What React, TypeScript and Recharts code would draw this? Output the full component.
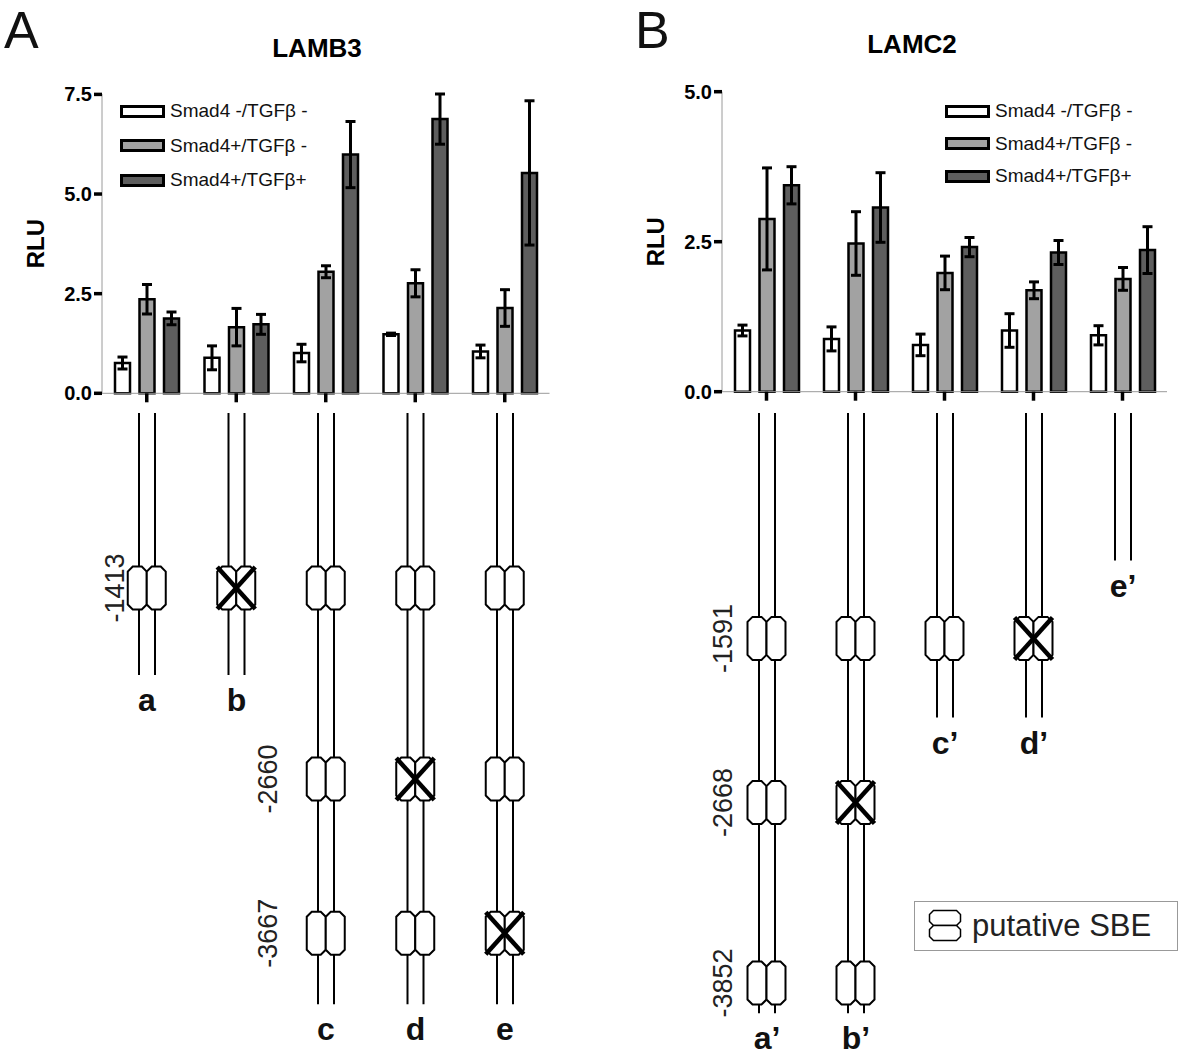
import React from "react";
import { Bar, BarChart, ComposedChart, ErrorBar, Scatter, XAxis, YAxis } from "recharts";

const FONT = '"Liberation Sans", Arial, Helvetica, sans-serif';

// luciferase reporter series
const SERIES = ["Smad4 -/TGFβ -", "Smad4+/TGFβ -", "Smad4+/TGFβ+"];
const SERIES_FILL = ["#ffffff", "#a2a2a2", "#5e5e5e"];

// LAMB3 (panel A)
const LAMB3_CONSTRUCTS = ["a", "b", "c", "d", "e"];
const LAMB3_NEG = [0.76, 0.89, 1.01, 1.48, 1.05];
const LAMB3_NEG_ERR = [0.15, 0.3, 0.22, 0.03, 0.16];
const LAMB3_S4 = [2.36, 1.66, 3.05, 2.76, 2.14];
const LAMB3_S4_ERR = [0.37, 0.47, 0.15, 0.34, 0.46];
const LAMB3_S4T = [1.88, 1.73, 5.99, 6.88, 5.53];
const LAMB3_S4T_ERR = [0.16, 0.25, 0.83, 0.63, 1.81];
const LAMB3_TICKS = [0, 2.5, 5, 7.5];

// LAMB3 promoter schematic: SBE positions (bp), 5' end of each construct, mutated SBE
const LAMB3_SITES = [-1413, -2660, -3667];
const LAMB3_SITE_LABEL_AT = ["a", "c", "c"];
const LAMB3_ENDS = [-1980, -1980, -4130, -4130, -4130];
const LAMB3_MUTATED = [null, -1413, null, -2660, -3667];

// LAMC2 (panel B)
const LAMC2_CONSTRUCTS = ["a’", "b’", "c’", "d’", "e’"];
const LAMC2_NEG = [1.02, 0.88, 0.78, 1.02, 0.94];
const LAMC2_NEG_ERR = [0.09, 0.2, 0.18, 0.28, 0.16];
const LAMC2_S4 = [2.88, 2.47, 1.98, 1.69, 1.88];
const LAMC2_S4_ERR = [0.85, 0.53, 0.28, 0.14, 0.19];
const LAMC2_S4T = [3.44, 3.07, 2.41, 2.32, 2.36];
const LAMC2_S4T_ERR = [0.31, 0.58, 0.16, 0.2, 0.39];
const LAMC2_TICKS = [0, 2.5, 5];

const LAMC2_SITES = [-1591, -2668, -3852];
const LAMC2_SITE_LABEL_AT = ["a’", "a’", "a’"];
const LAMC2_ENDS = [-4050, -4050, -2110, -2110, -1080];
const LAMC2_MUTATED = [null, -2668, null, -1591, null];

const VAL_KEYS = ["neg", "s4", "s4t"];
const ERR_KEYS = ["negErr", "s4Err", "s4tErr"];

function barRows(names: string[], vals: number[][], errs: number[][]) {
  return names.map((name, i) => {
    const row: Record<string, any> = { name };
    VAL_KEYS.forEach((k, s) => (row[k] = vals[s][i]));
    ERR_KEYS.forEach((k, s) => (row[k] = errs[s][i]));
    return row;
  });
}

function schematic(
  names: string[],
  sites: number[],
  labelAt: string[],
  ends: number[],
  mutated: (number | null)[],
  top: number,
) {
  const spans = names.map((name, i) => ({ name, span: [top, ends[i]] }));
  const marks: any[] = [];
  names.forEach((name, i) => {
    sites.forEach((pos) => {
      if (pos > ends[i]) marks.push({ name, pos, mutated: mutated[i] === pos });
    });
  });
  const labels = sites.map((pos, k) => ({ name: labelAt[k], pos, text: String(pos) }));
  return { spans, marks, labels };
}

function octagon(ox: number, oy: number, w: number, h: number, c: number) {
  const l = ox - w / 2, r = ox + w / 2, t = oy - h / 2, b = oy + h / 2;
  return `M${l + c},${t} L${r - c},${t} L${r},${t + c} L${r},${b - c} L${r - c},${b} L${l + c},${b} L${l},${b - c} L${l},${t + c} Z`;
}

function ConstructShape(props: any) {
  const { x, y, width, height, payload } = props;
  const cx = x + width / 2;
  const top = Math.min(y, y + height);
  const bot = Math.max(y, y + height);
  return (
    <g>
      <line x1={cx - 8} x2={cx - 8} y1={top} y2={bot} stroke="#000" strokeWidth={2} />
      <line x1={cx + 8} x2={cx + 8} y1={top} y2={bot} stroke="#000" strokeWidth={2} />
      <text x={cx} y={bot + 36} textAnchor="middle" fontSize={32} fontWeight={700} fontFamily={FONT} fill="#111">
        {payload.name}
      </text>
    </g>
  );
}

function SiteShape(props: any) {
  const { cx, cy, payload } = props;
  const w = 19, h = 43;
  return (
    <g>
      <path d={octagon(cx - w / 2, cy, w, h, 5)} fill="#fff" stroke="#000" strokeWidth={2} />
      <path d={octagon(cx + w / 2, cy, w, h, 5)} fill="#fff" stroke="#000" strokeWidth={2} />
      {payload.mutated && (
        <g stroke="#000" strokeWidth={4.5}>
          <line x1={cx - 19} y1={cy + 21} x2={cx + 19} y2={cy - 21} />
          <line x1={cx - 19} y1={cy - 21} x2={cx + 19} y2={cy + 21} />
        </g>
      )}
    </g>
  );
}

function makeLabelShape(dx: Record<string, number>) {
  return function LabelShape(props: any) {
    const { cx, cy, payload } = props;
    const tx = cx - (dx[payload.text] ?? 45);
    return (
      <text
        x={tx}
        y={cy}
        transform={`rotate(-90 ${tx} ${cy})`}
        textAnchor="middle"
        dominantBaseline="central"
        fontSize={27}
        fontFamily={FONT}
        fill="#222"
      >
        {payload.text}
      </text>
    );
  };
}

function Legend({ left, top, gap }: { left: number; top: number; gap: number }) {
  return (
    <div style={{ position: "absolute", left, top, fontFamily: FONT }}>
      {SERIES.map((s, k) => (
        <div key={s} style={{ position: "absolute", top: k * gap - 11, left: 0, display: "flex", alignItems: "center", whiteSpace: "nowrap", height: 22 }}>
          <div style={{ width: 39, height: 7, border: "3px solid #000", background: SERIES_FILL[k] }} />
          <span style={{ marginLeft: 5, fontSize: 19, color: "#111" }}>{s}</span>
        </div>
      ))}
    </div>
  );
}

function BarPanel(props: { rows: any[]; ticks: number[]; top: number; right: number; bottom: number }) {
  const { rows, ticks, top, right, bottom } = props;
  return (
    <BarChart width={560} height={420} data={rows} margin={{ top, right, left: 42, bottom }} barSize={15} barGap={9.5}>
      <XAxis
        dataKey="name"
        height={20}
        axisLine={{ stroke: "#9a9a9a", strokeWidth: 1 }}
        tickLine={{ stroke: "#000", strokeWidth: 3.5 }}
        tickSize={9}
        tickFormatter={() => ""}
      />
      <YAxis
        width={60}
        domain={[0, ticks[ticks.length - 1]]}
        ticks={ticks}
        interval={0}
        tickFormatter={(v: number) => v.toFixed(1)}
        axisLine={{ stroke: "#9a9a9a", strokeWidth: 1 }}
        tickLine={{ stroke: "#000", strokeWidth: 3.5 }}
        tickSize={8}
        tickMargin={2}
        tick={{ fill: "#000", fontSize: 20, fontWeight: 700, fontFamily: FONT }}
        label={{
          content: (p: any) => {
            const vb = p.viewBox;
            const x = vb.x - 6;
            const y = vb.y + vb.height / 2;
            return (
              <text x={x} y={y} transform={`rotate(-90 ${x} ${y})`} textAnchor="middle" dominantBaseline="central" fontSize={24} fontWeight={700} fontFamily={FONT} fill="#000">
                RLU
              </text>
            );
          },
        }}
      />
      {VAL_KEYS.map((k, s) => (
        <Bar key={k} dataKey={k} name={SERIES[s]} fill={SERIES_FILL[s]} stroke="#000" strokeWidth={2.5} isAnimationActive={false}>
          <ErrorBar dataKey={ERR_KEYS[s]} width={5} strokeWidth={3} stroke="#000" />
        </Bar>
      ))}
    </BarChart>
  );
}

function SchematicPanel(props: {
  data: { spans: any[]; marks: any[]; labels: any[] };
  domain: [number, number];
  right: number;
  bottom: number;
  labelDx: Record<string, number>;
}) {
  const { data, domain, right, bottom, labelDx } = props;
  return (
    <ComposedChart width={560} height={1061} data={data.spans} margin={{ top: 413, right, left: 102, bottom }} barSize={16}>
      <XAxis dataKey="name" type="category" allowDuplicatedCategory={false} hide />
      <YAxis type="number" domain={domain} hide />
      <Bar dataKey="span" shape={ConstructShape} isAnimationActive={false} />
      <Scatter data={data.marks} dataKey="pos" shape={SiteShape} isAnimationActive={false} />
      <Scatter data={data.labels} dataKey="pos" shape={makeLabelShape(labelDx)} isAnimationActive={false} />
    </ComposedChart>
  );
}

const abs = (l: number, t: number): React.CSSProperties => ({ position: "absolute", left: l, top: t });

export default function App() {
  const rowsA = barRows(LAMB3_CONSTRUCTS, [LAMB3_NEG, LAMB3_S4, LAMB3_S4T], [LAMB3_NEG_ERR, LAMB3_S4_ERR, LAMB3_S4T_ERR]);
  const rowsB = barRows(LAMC2_CONSTRUCTS, [LAMC2_NEG, LAMC2_S4, LAMC2_S4T], [LAMC2_NEG_ERR, LAMC2_S4_ERR, LAMC2_S4T_ERR]);
  const schemA = schematic(LAMB3_CONSTRUCTS, LAMB3_SITES, LAMB3_SITE_LABEL_AT, LAMB3_ENDS, LAMB3_MUTATED, -270);
  const schemB = schematic(LAMC2_CONSTRUCTS, LAMC2_SITES, LAMC2_SITE_LABEL_AT, LAMC2_ENDS, LAMC2_MUTATED, -112);

  return (
    <div style={{ position: "absolute", left: 0, top: 0, width: 1200, height: 1061, background: "#fff", fontFamily: FONT, overflow: "hidden" }}>
      <div style={abs(0, 0)}>
        <SchematicPanel data={schemA} domain={[-4300, -270]} right={10.5} bottom={30.8} labelDx={{ "-1413": 32, "-2660": 58, "-3667": 58 }} />
      </div>
      <div style={abs(620, 0)}>
        <SchematicPanel data={schemB} domain={[-4300, -112]} right={13} bottom={9.7} labelDx={{ "-1591": 43, "-2668": 43, "-3852": 43 }} />
      </div>
      <div style={abs(0, 0)}>
        <BarPanel rows={rowsA} ticks={LAMB3_TICKS} top={94} right={10.5} bottom={6.7} />
      </div>
      <div style={abs(620, 0)}>
        <BarPanel rows={rowsB} ticks={LAMC2_TICKS} top={91.7} right={13} bottom={8.3} />
      </div>

      <Legend left={120} top={111} gap={34.5} />
      <Legend left={945} top={111} gap={32.5} />

      <svg width={1200} height={60} style={{ ...abs(0, 0), pointerEvents: "none" }}>
        <text x={4} y={48} fontSize={52} fontFamily={FONT} fill="#111">A</text>
        <text x={635} y={48} fontSize={52} fontFamily={FONT} fill="#111">B</text>
      </svg>
      <div style={{ ...abs(262, 33), width: 110, textAlign: "center", fontSize: 26, fontWeight: 700, color: "#000" }}>LAMB3</div>
      <div style={{ ...abs(857, 29), width: 110, textAlign: "center", fontSize: 26, fontWeight: 700, color: "#000" }}>LAMC2</div>

      <div style={{ ...abs(914, 901), width: 262, height: 48, border: "1px solid #999", display: "flex", alignItems: "center" }}>
        <svg width={34} height={34} style={{ marginLeft: 13 }}>
          <path d={octagon(17, 9, 31, 15, 4)} fill="#fff" stroke="#000" strokeWidth={1.5} />
          <path d={octagon(17, 24, 31, 15, 4)} fill="#fff" stroke="#000" strokeWidth={1.5} />
        </svg>
        <span style={{ marginLeft: 10, fontSize: 31, color: "#222" }}>putative SBE</span>
      </div>
    </div>
  );
}
